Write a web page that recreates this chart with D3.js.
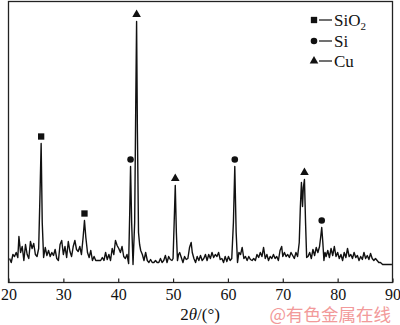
<!DOCTYPE html>
<html>
<head>
<meta charset="utf-8">
<script src="https://cdn.jsdelivr.net/npm/d3@7"></script>
<style>
  body { margin: 0; background: #fff; }
  svg { display: block; }
  text { font-family: "Liberation Serif", "Times New Roman", Times, "DejaVu Serif", serif; }
</style>
</head>
<body>
<svg id="chart"></svg>
<script>
const width = 400;
const height = 325;

// 2theta (deg) and intensity (a.u.)
const twoTheta = [
  20.2,20.5,20.8,21.1,21.4,21.7,21.9,22.2,22.5,22.8,23.1,23.4,23.7,24.0,24.3,24.6,24.9,25.2,25.5,
  25.75,25.95,26.15,26.4,
  26.7,27.0,27.3,27.6,27.9,28.2,28.5,28.8,29.1,29.4,29.7,30.0,30.3,30.6,30.9,31.2,31.5,31.8,32.1,32.4,32.7,33.0,33.3,
  33.6,33.85,34.1,
  34.4,34.7,35.0,35.3,35.6,35.9,36.2,36.5,36.8,37.1,37.4,37.7,38.0,38.3,38.6,38.9,39.2,39.5,39.8,40.1,40.4,40.7,41.0,41.3,41.6,41.9,
  42.1,42.25,42.45,42.7,
  43.0,43.2,43.35,43.5,43.7,
  43.9,44.1,44.4,44.7,45.0,45.3,45.6,45.9,46.2,46.5,46.8,47.1,47.4,47.7,48.0,48.3,48.6,48.9,49.2,49.5,49.8,50.0,
  50.2,50.4,50.6,50.8,
  51.0,51.2,51.5,51.8,52.1,52.4,52.7,53.0,53.3,53.5,53.8,54.1,54.4,54.7,55.0,55.3,55.6,55.9,56.2,56.5,56.8,57.1,57.4,57.7,
  58.0,58.3,58.6,58.9,59.2,59.5,59.8,60.1,60.4,60.7,
  61.0,61.25,61.5,61.75,
  62.0,62.3,62.6,62.9,63.2,63.5,63.8,64.1,64.4,64.7,65.0,65.3,65.6,65.9,66.2,66.5,66.8,67.1,67.4,67.7,68.0,68.3,68.6,68.9,
  69.2,69.5,69.8,70.0,70.3,70.6,70.9,71.2,71.5,71.8,72.1,72.4,72.7,73.0,
  73.2,73.4,73.6,73.75,73.95,74.15,74.35,
  74.6,74.9,75.2,75.5,75.8,76.1,76.4,76.7,
  76.9,77.1,77.3,77.5,
  77.7,77.9,78.2,78.5,78.8,79.1,79.4,79.7,80.0,80.3,80.6,80.9,81.2,81.5,81.8,82.1,82.4,82.7,83.0,83.3,83.6,83.9,
  84.2,84.5,84.8,85.1,85.4,85.7,86.0,86.3,86.6,86.9,87.2,87.5,87.8,88.2,89.9
];
const intensity = [
  24,20,28,26,30,25,46,30,36,22,38,28,24,41,34,39,28,26,34,
  90,139,60,25,
  35,27,32,26,30,27,33,24,22,38,42,28,36,25,41,31,26,36,42,33,31,36,28,
  45,62,45,
  30,25,32,22,26,22,22,22,22,25,22,30,23,28,22,34,28,42,37,34,30,36,26,24,28,19,
  70,116,60,18,
  60,180,261,150,50,
  38,32,28,22,30,22,20,23,20,20,22,20,20,24,20,22,27,20,26,23,22,24,
  60,97,50,22,
  28,30,25,20,26,23,24,35,40,30,24,20,26,22,27,22,24,28,22,28,24,30,25,28,
  26,30,23,24,20,26,21,26,22,24,
  60,116,50,20,
  30,28,35,24,26,22,26,23,22,24,22,28,25,30,26,35,24,28,22,26,24,28,24,26,
  22,32,36,26,30,26,28,25,30,27,24,30,26,40,
  75,100,76,95,103,60,25,
  26,30,24,33,27,35,30,36,
  45,55,40,22,
  30,26,32,25,34,27,36,26,30,24,28,22,30,25,34,26,28,24,30,25,27,22,
  26,23,30,24,27,23,29,24,22,24,22,20,20,18,18
];

// phase markers
const markPos = [25.95, 33.85, 42.25, 43.35, 50.4, 61.25, 73.95, 77.1];
const markVal = [139, 62, 116, 261, 97, 116, 103, 55];
const markPhase = ['SiO2', 'SiO2', 'Si', 'Cu', 'Cu', 'Si', 'Cu', 'Si'];

const xTicks = [20, 30, 40, 50, 60, 70, 80, 90];
const phases = ['SiO2', 'Si', 'Cu'];

const serif = '"Liberation Serif", "Times New Roman", Times, "DejaVu Serif", serif';

const svg = d3.select('#chart')
    .attr('width', width)
    .attr('height', height);

const x = d3.scaleLinear().domain([20, 90]).range([8.5, 392.5]);
const y = d3.scaleLinear().domain([0, 281]).range([282.5, 1.5]);

const symbolOf = {
  'SiO2': d3.symbol().type(d3.symbolSquare).size(40),
  'Si': d3.symbol().type(d3.symbolCircle).size(34),
  'Cu': d3.symbol().type(d3.symbolTriangle).size(32)
};

const pts = twoTheta.map((t, i) => ({t: t, v: intensity[i]}));

svg.append('path')
    .datum(pts)
    .attr('fill', 'none')
    .attr('stroke', '#111')
    .attr('stroke-width', 1.4)
    .attr('stroke-linejoin', 'round')
    .attr('d', d3.line().x(d => x(d.t)).y(d => y(d.v)));

svg.selectAll('.mark')
    .data(markPos.map((p, i) => ({p: p, v: markVal[i], ph: markPhase[i]})))
    .enter().append('path')
    .attr('class', 'mark')
    .attr('transform', d => `translate(${x(d.p)},${y(d.v) - 7})`)
    .attr('d', d => symbolOf[d.ph]())
    .attr('fill', '#111');

// frame
svg.append('rect')
    .attr('x', 8.5).attr('y', 1.5)
    .attr('width', 384).attr('height', 281)
    .attr('fill', 'none')
    .attr('stroke', '#222')
    .attr('stroke-width', 1.3);

const xAxis = svg.append('g')
    .attr('transform', 'translate(0,282.5)')
    .call(d3.axisBottom(x).tickValues(xTicks).tickSizeInner(-4).tickSizeOuter(0).tickPadding(6));
xAxis.attr('font-family', serif).attr('font-size', 16);
xAxis.select('.domain').remove();
xAxis.selectAll('line').attr('stroke', '#222').attr('stroke-width', 1.2);
xAxis.selectAll('text')
    .style('font-family', serif)
    .attr('font-size', 16)
    .attr('fill', '#111');

const xLabel = svg.append('text')
    .attr('x', 200).attr('y', 320)
    .attr('text-anchor', 'middle')
    .style('font-family', serif)
    .attr('font-size', 17)
    .attr('fill', '#111');
xLabel.append('tspan').text('2');
xLabel.append('tspan').attr('font-style', 'italic').text('θ');
xLabel.append('tspan').text('/(°)');

// legend
const legend = svg.append('g').attr('transform', 'translate(314,0)');
const rowsY = [20, 41, 61];
phases.forEach((ph, i) => {
  const g = legend.append('g').attr('transform', `translate(0,${rowsY[i]})`);
  g.append('path').attr('d', symbolOf[ph]()).attr('fill', '#111');
  g.append('line').attr('x1', 5).attr('x2', 18).attr('y1', 0).attr('y2', 0)
      .attr('stroke', '#111').attr('stroke-width', 1.2);
  const t = g.append('text').attr('x', 20).attr('y', 5.5)
      .style('font-family', serif)
      .attr('font-size', 17).attr('fill', '#111');
  if (ph === 'SiO2') {
    t.append('tspan').text('SiO');
    t.append('tspan').attr('font-size', 11).attr('dy', 4).text('2');
  } else {
    t.text(ph);
  }
});

// watermark
svg.append('text')
    .attr('x', 391).attr('y', 321)
    .attr('text-anchor', 'end')
    .style('font-family', '"Noto Sans CJK SC", sans-serif')
    .attr('font-size', 17.5)
    .attr('fill', '#f29a9a')
    .text('@有色金属在线');
</script>
</body>
</html>
